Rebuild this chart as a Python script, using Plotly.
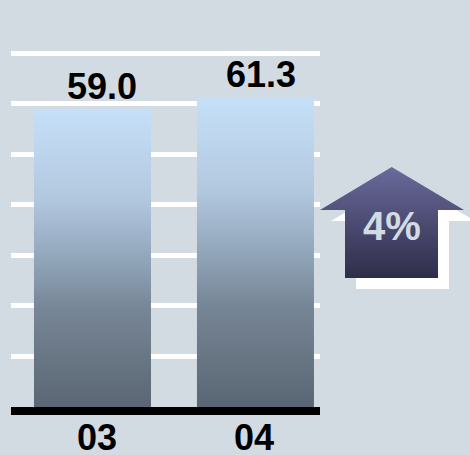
import plotly.graph_objects as go

# ---- data ----
categories = ["03", "04"]
values = [59.0, 61.3]

W, H = 470, 455
BG = "#d3dbe2"
BAR_SCALE = [[0, "#5a6673"], [0.33, "#778696"], [0.5, "#92a6bb"],
             [0.7, "#b2c8df"], [1, "#c6e0f9"]]
ARROW_TOP = "#6a6a9c"
ARROW_BOTTOM = "#2e2d49"
FONT = "Liberation Sans"
BAR_WIDTH = 0.718

growth = (values[-1] - values[0]) / values[0] * 100

fig = go.Figure()

value_xshift = [10, 6]
cat_xshift = [5, -1]
for i, (c, v) in enumerate(zip(categories, values)):
    x0, x1 = i - BAR_WIDTH / 2, i + BAR_WIDTH / 2
    fig.add_trace(go.Scatter(
        x=[x0, x0, x1, x1, x0], y=[0, v, v, 0, 0],
        mode="lines", fill="toself", line=dict(width=0),
        fillgradient=dict(type="vertical", colorscale=BAR_SCALE),
        hoverinfo="skip", showlegend=False, xaxis="x", yaxis="y",
    ))
    fig.add_annotation(x=i, y=v, xref="x", yref="y", text=f"{v:.1f}",
                       showarrow=False, yanchor="bottom", yshift=0,
                       xshift=value_xshift[i],
                       font=dict(family=FONT, size=36, color="black", weight="bold"))
    # category label under the axis
    fig.add_annotation(x=i, y=0, xref="x", yref="y", text=c,
                       showarrow=False, yanchor="bottom", yshift=-52, borderpad=0,
                       xshift=cat_xshift[i],
                       font=dict(family=FONT, size=36, color="black", weight="bold"))

arrow_x = [391.7, 464, 438, 438, 345, 345, 320, 391.7]
arrow_y = [167, 210, 210, 278, 278, 210, 210, 167]
shadow_dx, shadow_dy = 11, 11
fig.add_trace(go.Scatter(
    x=[a + shadow_dx for a in arrow_x], y=[b + shadow_dy for b in arrow_y],
    mode="lines", fill="toself", line=dict(width=0), fillcolor="white",
    hoverinfo="skip", showlegend=False, xaxis="x2", yaxis="y2",
))
fig.add_trace(go.Scatter(
    x=arrow_x, y=arrow_y,
    mode="lines", fill="toself", line=dict(width=0),
    fillgradient=dict(type="vertical", start=167, stop=278,
                      colorscale=[[0, ARROW_TOP], [1, ARROW_BOTTOM]]),
    hoverinfo="skip", showlegend=False, xaxis="x2", yaxis="y2",
))
fig.add_annotation(x=392, y=226, xref="x2", yref="y2", text=f"{round(growth)}%",
                   showarrow=False,
                   font=dict(family=FONT, size=40, color=BG, weight="bold"))

fig.update_layout(
    width=W, height=H,
    margin=dict(l=0, r=0, t=0, b=0, autoexpand=False),
    paper_bgcolor=BG, plot_bgcolor="rgba(0,0,0,0)",
    xaxis=dict(domain=[11 / W, 320 / W], range=[-0.5, 1.396],
               showgrid=False, zeroline=False, automargin=False,
               showline=True, linewidth=8, linecolor="black",
               tickvals=list(range(len(categories))), ticktext=categories,
               showticklabels=False, fixedrange=True),
    yaxis=dict(domain=[48 / H, 412 / H], range=[0, 72],
               dtick=10, tick0=0, showgrid=True, gridcolor="white", gridwidth=5,
               zeroline=False, showticklabels=False, showline=False,
               automargin=False, fixedrange=True),
    xaxis2=dict(domain=[0, 1], range=[0, W], visible=False, anchor="y2",
                automargin=False, fixedrange=True),
    yaxis2=dict(domain=[0, 1], range=[H, 0], visible=False, anchor="x2",
                automargin=False, fixedrange=True),
    showlegend=False,
)

fig.write_html("out.html")
